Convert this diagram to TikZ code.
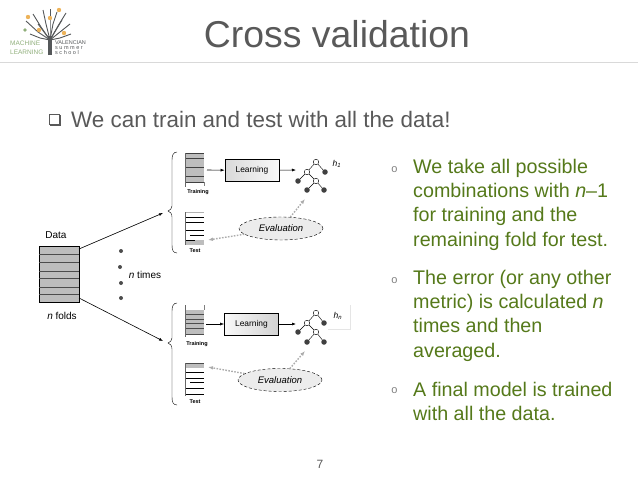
\documentclass[tikz,border=0pt]{standalone}
\usepackage{fontspec}
\setmainfont{Liberation Sans}
\usetikzlibrary{shapes.geometric,arrows.meta}
\definecolor{titlegray}{HTML}{595959}
\definecolor{textgreen}{HTML}{55791A}
\definecolor{foldgray}{HTML}{BDBDBD}
\definecolor{treegray}{HTML}{55585A}
\definecolor{logogreen}{HTML}{8FAE7A}
\definecolor{logoorange}{HTML}{EDB35A}
\tikzset{
  lab/.style={inner sep=0pt, font=\fontsize{10}{12}\selectfont},
  small/.style={inner sep=0pt, font=\bfseries\fontsize{5.5}{6}\selectfont},
  bullet/.style={inner sep=0pt, text=gray, font=\fontsize{11}{12}\selectfont},
  item/.style={inner sep=0pt, text=textgreen, anchor=north west, align=left, font=\fontsize{19.7}{24.2}\selectfont},
  learn/.style={draw=black, thick, minimum width=54pt, minimum height=22pt, inner sep=0pt, font=\fontsize{8.4}{10}\selectfont},
  evalu/.style={ellipse, draw=black, densely dashed, minimum width=84pt, minimum height=23pt, inner sep=0pt, fill=gray!15, font=\itshape\fontsize{9.5}{10}\selectfont},
  evalarrow/.style={dash pattern=on 1.6pt off 1.4pt, line width=1.4pt, draw=gray!65, -{Latex[length=5pt]}},
  blackarrow/.style={draw=black, semithick, -{Latex[length=4pt]}},
  leaf/.style={circle, fill=black!75, inner sep=0pt, minimum size=5.5pt},
  inner/.style={circle, draw=black, fill=white, inner sep=0pt, minimum size=5.5pt},
  dot/.style={circle, fill=black!70, inner sep=0pt, minimum size=4pt}
}
\begin{document}
\begin{tikzpicture}[x=1pt, y=-1pt]
\useasboundingbox (0,0) rectangle (638,479);
% header
\draw[gray!30, line width=0.8pt] (0,62.5) -- (638,62.5);
\node[inner sep=0pt, text=titlegray, font=\fontsize{37.4}{38}\selectfont] (title) at (337,34) {Cross validation};
\node[inner sep=0pt, text=titlegray, anchor=west, font=\fontsize{22.4}{24}\selectfont] (intro) at (71,119) {We can train and test with all the data!};
\node[inner sep=0pt, text=titlegray, font=\fontsize{12}{12}\selectfont] (page) at (320,464) {7};
\node[fill=titlegray, inner sep=0pt, minimum size=11pt] (tickshadow) at (55,120.5) {};
\node[draw=titlegray, fill=white, inner sep=0pt, minimum size=10pt] (tick) at (54,119) {};
% logo
\node[inner sep=0pt, align=left, text=logogreen, font=\fontsize{6.5}{9}\selectfont, anchor=west] (mlogo) at (10,47.5) {MACHINE\\LEARNING};
\node[inner sep=0pt, align=left, text=treegray, font=\fontsize{5.5}{5}\selectfont, anchor=west] (vlogo) at (55,48) {VALENCIAN\\s u m m e r\\s c h o o l};
\draw[treegray, line width=4pt] (50,55) -- (50,36);
\foreach \ex/\ey/\mx/\my in {26/21/38/32, 30/34/40/38, 33/14/41/27, 38/24/44/32, 43/10/46/24, 50/9/50/24, 57/12/53/24, 62/20/56/30, 66/13/58/26, 70/24/60/32, 71/34/60/38}
  \draw[treegray, line width=0.9pt] (50,40) -- (\mx,\my) -- (\ex,\ey);
\foreach \ox/\oy in {28/17, 39/30, 50/18, 59/10, 64/33}
  \fill[logoorange] (\ox,\oy) circle (2.2pt);
\fill[logogreen] (25,30) circle (1.8pt);
% right column
\node[bullet] (b1) at (394.5,170) {o};
\node[bullet] (b2) at (394.5,281) {o};
\node[bullet] (b3) at (394.5,391) {o};
\node[item] (t1) at (413,159) {We take all possible\\combinations with \textit{n}–1\\for training and the\\remaining fold for test.};
\node[item] (t2) at (413,270) {The error (or any other\\metric) is calculated \textit{n}\\times and then\\averaged.};
\node[item] (t3) at (413,382) {A final model is trained\\with all the data.};
% data block
\node[lab] (datalab) at (56,235) {Data};
\fill[foldgray] (39,246) rectangle (79,302);
\draw[black] (39,246) rectangle (79,302);
\foreach \y in {254,262,271,278,287,294} \draw[black!70] (39,\y) -- (79,\y);
\coordinate (dataR1) at (79,249);
\coordinate (dataR2) at (79,298);
\node[lab] (foldlab) at (62,316) {\textit{n} folds};
% n times
\node[dot] (d1) at (121,251) {};
\node[dot] (d2) at (120,267) {};
\node[dot] (d3) at (121,283) {};
\node[dot] (d4) at (121,298) {};
\node[lab] (timeslab) at (145,275) {\textit{n} times};
\coordinate (brace1) at (163,213);
\coordinate (brace2) at (163,341);
\draw[blackarrow] (dataR1) -- (brace1);
\draw[blackarrow] (dataR2) -- (brace2);
\draw[thin] (177,152) .. controls (173,152) and (172,156) .. (172,160) -- (172,206) .. controls (172,209) and (170,210) .. (168,211) .. controls (170,212) and (172,213) .. (172,217) -- (172,245) .. controls (172,250) and (173,253) .. (177,253);
\draw[thin] (177,303) .. controls (173,303) and (172,307) .. (172,311) -- (172,338) .. controls (172,341) and (170,342) .. (168,343) .. controls (170,344) and (172,345) .. (172,349) -- (172,397) .. controls (172,402) and (173,405) .. (177,405);
% top fold
\fill[foldgray] (185,153) rectangle (204,182);
\foreach \y in {153,158,167,176,182} \draw[black!75] (185,\y) -- (204,\y);
\draw[black!60] (185,153) -- (185,187);
\draw[gray] (204,182) -- (204,186);
\node[small] (train1) at (198,192) {Training};
\fill[foldgray] (185,240) rectangle (204,245);
\draw[gray!60] (185,212) -- (204,212);
\foreach \y in {217,222,230} \draw[black] (185,\y) -- (204,\y);
\draw[black] (190,235) -- (204,235);
\draw[black] (185,240) -- (195,240);
\draw[black!60] (185,212) -- (185,245);
\node[small] (test1) at (195,251) {Test};
% bottom fold
\fill[foldgray] (185,310) rectangle (204,334);
\foreach \y in {314,319,323,328,334} \draw[black!70] (185,\y) -- (204,\y);
\draw[black!60] (185,305) -- (185,337);
\draw[gray] (204,305) -- (204,310);
\node[small] (train2) at (197,344) {Training};
\fill[foldgray] (185,363) rectangle (204,368);
\draw[black!70] (185,363) -- (204,363);
\foreach \y in {372,378,388,394} \draw[black] (185,\y) -- (204,\y);
\draw[black] (190,382) -- (204,382);
\draw[black!60] (185,363) -- (185,396);
\node[small] (test2) at (195,402) {Test};
% first row
\coordinate (in1) at (207,170);
\coordinate (out1) at (296,170);
\coordinate (treeend1) at (305,199);
\coordinate (testR1) at (208,240);
\node[learn, left color=gray!30, right color=gray!5] (learn1) at (252,170.5) {Learning};
\node[evalu] (eval1) at (281,228.5) {Evaluation};
% tree 1
\node[inner] (r1) at (316,162) {};
\node[leaf] (a1) at (325,172) {};
\node[inner] (b1t) at (307,172) {};
\node[leaf] (c1) at (298,181) {};
\node[inner] (e1) at (316,181) {};
\node[leaf] (f1) at (307,190) {};
\node[leaf] (g1) at (324,190) {};
\foreach \p/\q in {r1/a1, r1/b1t, b1t/c1, b1t/e1, e1/f1, e1/g1} \draw[black] (\p) -- (\q);
\node[inner sep=0pt, font=\itshape\fontsize{8.5}{10}\selectfont] (h1) at (337,164) {h\textsubscript{1}};
\draw[blackarrow] (in1) -- (learn1);
\draw[blackarrow] (learn1) -- (out1);
\draw[evalarrow] (eval1) -- (treeend1);
\draw[evalarrow] (eval1) -- (testR1);
% second row
\coordinate (in2) at (206,324);
\coordinate (out2) at (296,324);
\coordinate (treeend2) at (305,351);
\coordinate (testR2) at (208,367);
\node[learn, left color=gray!5, right color=gray!35] (learn2) at (251.5,324) {Learning};
\node[evalu] (eval2) at (280,380) {Evaluation};
% tree 2
\node[inner] (r2) at (316,313) {};
\node[leaf] (a2) at (324,323) {};
\node[inner] (b2t) at (307,323) {};
\node[leaf] (c2) at (298,332) {};
\node[inner] (e2) at (316,332) {};
\node[leaf] (f2) at (307,342) {};
\node[leaf] (g2) at (324,342) {};
\foreach \p/\q in {r2/a2, r2/b2t, b2t/c2, b2t/e2, e2/f2, e2/g2} \draw[black] (\p) -- (\q);
\node[inner sep=0pt, font=\itshape\fontsize{8.5}{10}\selectfont] (h2) at (338,316) {h\textsubscript{n}};
\draw[gray!20] (350,305) -- (350,329) -- (328,329);
\draw[blackarrow] (in2) -- (learn2);
\draw[blackarrow] (learn2) -- (out2);
\draw[evalarrow] (eval2) -- (treeend2);
\draw[evalarrow] (eval2) -- (testR2);
\end{tikzpicture}
\end{document}
